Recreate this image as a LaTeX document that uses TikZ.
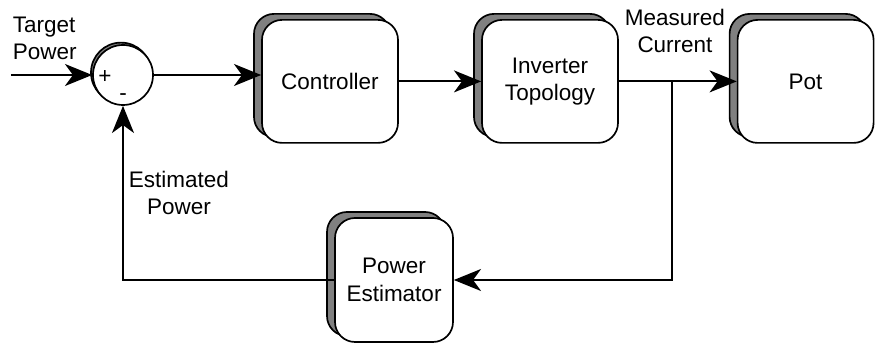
\documentclass[tikz,border=0pt]{standalone}
\usepackage{fontspec}
\setmainfont{Liberation Sans}
\usetikzlibrary{positioning}
\usetikzlibrary{shadows}
\usetikzlibrary{arrows.meta}

\tikzset{
  block/.style={draw=black, line width=1.2pt, fill=white, rounded corners=0.5cm,
    minimum width=3.4cm, minimum height=3.075cm, align=center,
    copy shadow={shadow xshift=-0.2cm, shadow yshift=0.15cm, fill=gray, draw=black, line width=1.2pt}},
  sumnode/.style={draw=black, circle, line width=1.2pt, fill=white, minimum size=1.5cm, inner sep=0pt,
    copy shadow={shadow xshift=-0.05cm, shadow yshift=0.06cm, fill=gray, draw=black, line width=1.2pt}},
  flow/.style={line width=1.3pt, -{Stealth[length=0.68cm, width=0.55cm, inset=0.2cm]}}
}

\begin{document}
\begin{tikzpicture}[font=\fontsize{16}{19.5}\selectfont]
\useasboundingbox (0,0) rectangle (21.925,8.575);
%blocks
\node[sumnode] (sum) at (3.075,6.7) {};
\node[block] (ctrl) at (8.25,6.54) {Controller};
\node[block] (inv) at (13.75,6.54) {Inverter\\Topology};
\node[block] (pot) at (20.14,6.54) {Pot};
\node[block, minimum width=2.95cm, minimum height=3.1cm] (est) at (9.85,1.575) {Power\\Estimator};
%signs
\node (plus) at (2.625,6.65) {+};
\node (minus) at (3.075,6.15) {-};
%labels
\node[align=left, anchor=west] (tgt) at (0.2,7.61) {Target\\Power};
\node[align=center] (meas) at (16.875,7.8) {Measured\\Current};
\node[align=center] (estp) at (4.475,3.75) {Estimated\\Power};
%signals
\coordinate (in) at (0.275,6.7);
\coordinate (tap) at (16.8,6.54);
\draw[flow] (in) -- (sum);
\draw[flow] (sum.east) -- (sum.east -| ctrl.west);
\draw[flow] (ctrl) -- (inv);
\draw[flow] (inv) -- (pot);
%feedback
\draw[flow] (tap) |- (est.east);
\draw[flow] (est.west) -| (sum.south);
\end{tikzpicture}
\end{document}
